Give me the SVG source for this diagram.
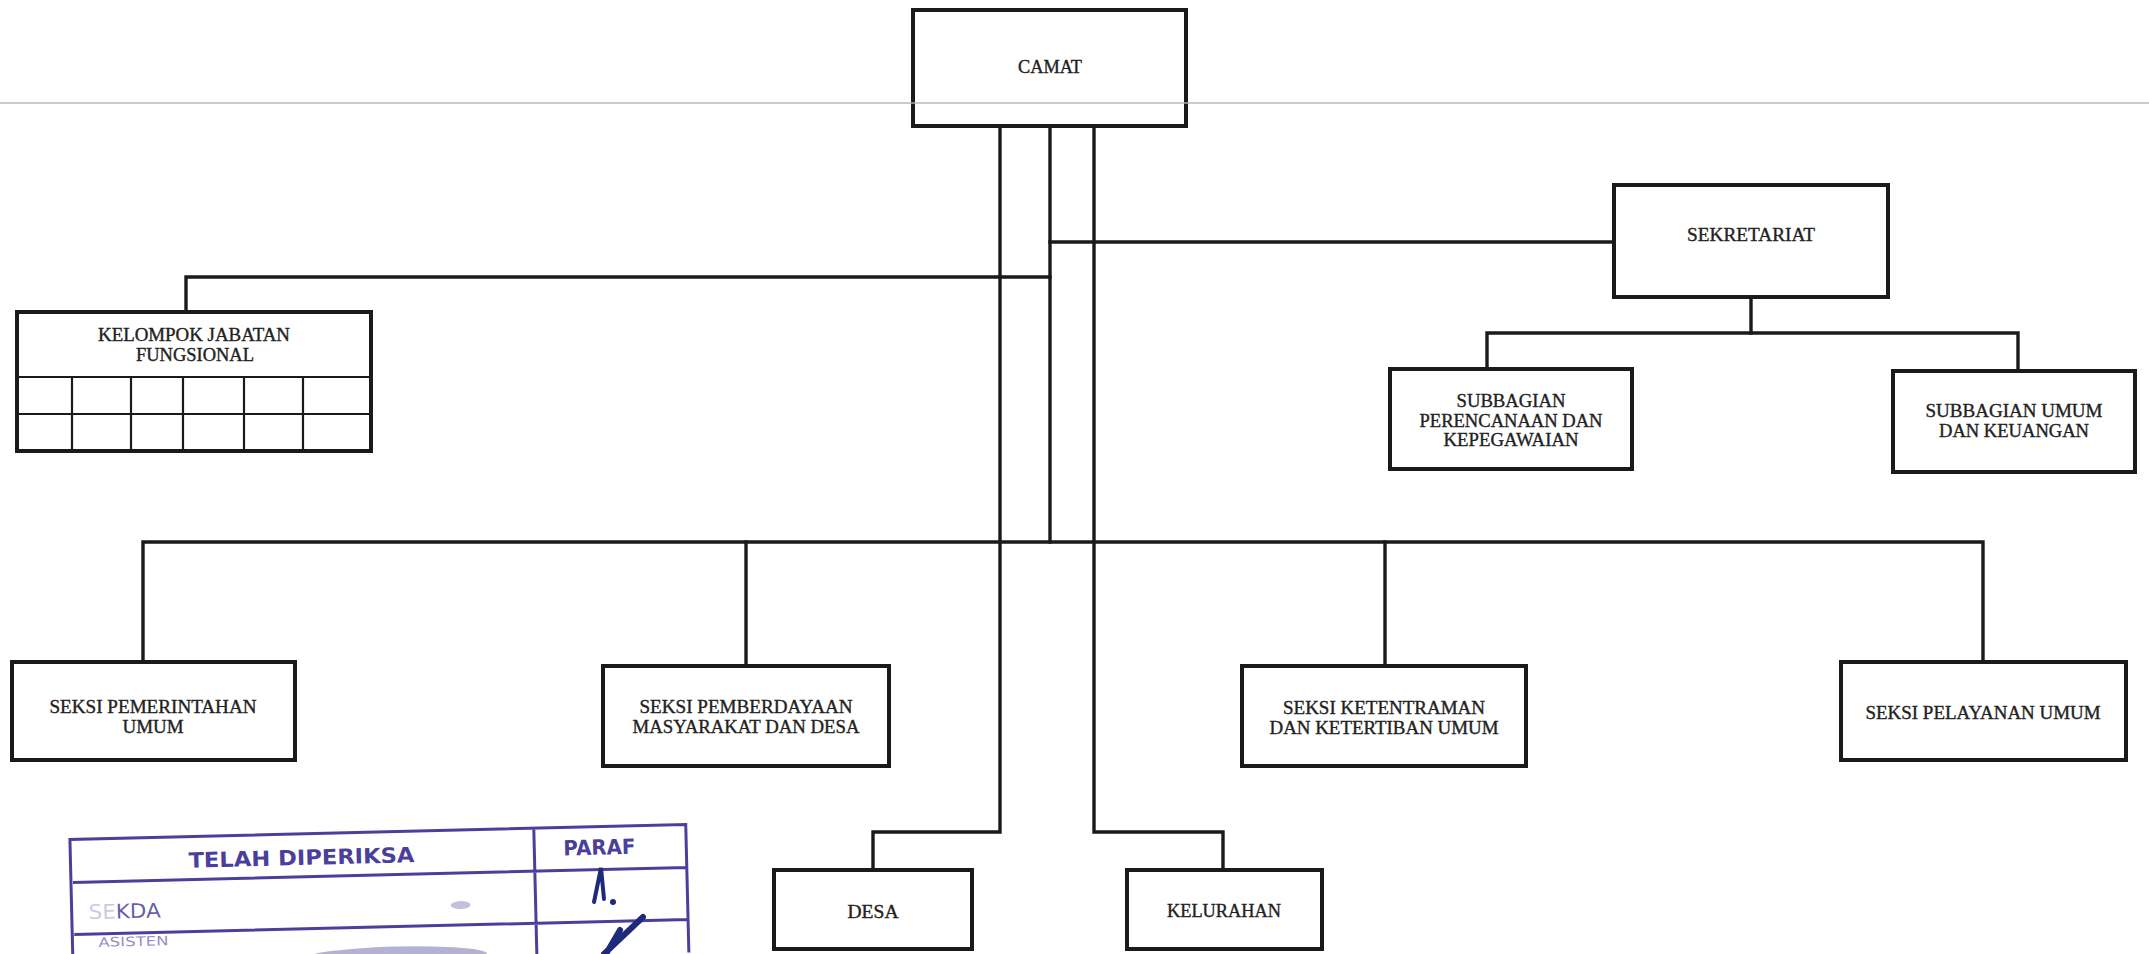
<svg xmlns="http://www.w3.org/2000/svg" width="2149" height="954" viewBox="0 0 2149 954">
<style>
.box{fill:#fff;stroke:#1a1a1a;stroke-width:4}
.grid{fill:none;stroke:#1a1a1a;stroke-width:2.2}
.con{fill:none;stroke:#1a1a1a;stroke-width:3.4;stroke-linejoin:miter;stroke-linecap:square}
.t{font-family:"Liberation Serif","DejaVu Serif",serif;font-size:18px;fill:#222;stroke:#222;stroke-width:0.35;text-anchor:middle}
.st{fill:none;stroke:#4b3f9c;stroke-width:3}
.stt{font-family:"DejaVu Sans","Liberation Sans",sans-serif;font-weight:bold;font-size:21px;fill:#4b3f9c;text-anchor:middle}
</style>
<rect width="2149" height="954" fill="#fff"/>

<g id="connectors">
  <polyline class="con" points="1050,126 1050,542"/>
  <polyline class="con" points="1000,126 1000,832 873,832 873,870"/>
  <polyline class="con" points="1094,126 1094,832 1223,832 1223,870"/>
  <polyline class="con" points="1050,242 1614,242"/>
  <polyline class="con" points="1050,277 186,277 186,312"/>
  <polyline class="con" points="143,662 143,542 1983,542 1983,662"/>
  <polyline class="con" points="746,542 746,666"/>
  <polyline class="con" points="1385,542 1385,666"/>
  <polyline class="con" points="1751,297 1751,333"/>
  <polyline class="con" points="1487,369 1487,333 2018,333 2018,371"/>
</g>

<g id="camat">
  <rect class="box" x="913" y="10" width="273" height="116"/>
  <text class="t" x="1050" y="73" textLength="64" lengthAdjust="spacingAndGlyphs">CAMAT</text>
</g>

<g id="sekretariat">
  <rect class="box" x="1614" y="185" width="274" height="112"/>
  <text class="t" x="1751" y="241" textLength="128" lengthAdjust="spacingAndGlyphs">SEKRETARIAT</text>
</g>

<g id="kelompok-jabatan-fungsional">
  <rect class="box" x="17" y="312" width="354" height="139"/>
  <path class="grid" d="M17,377H371M17,414H371M72,377V451M131,377V451M183,377V451M244,377V451M303,377V451"/>
  <text class="t" x="194" y="341" textLength="192" lengthAdjust="spacingAndGlyphs">KELOMPOK JABATAN</text>
  <text class="t" x="195" y="361" textLength="118" lengthAdjust="spacingAndGlyphs">FUNGSIONAL</text>
</g>

<g id="subbagian-perencanaan">
  <rect class="box" x="1390" y="369" width="242" height="100"/>
  <text class="t" x="1511" y="407" textLength="109" lengthAdjust="spacingAndGlyphs">SUBBAGIAN</text>
  <text class="t" x="1511" y="427" textLength="183" lengthAdjust="spacingAndGlyphs">PERENCANAAN DAN</text>
  <text class="t" x="1511" y="446" textLength="135" lengthAdjust="spacingAndGlyphs">KEPEGAWAIAN</text>
</g>

<g id="subbagian-umum">
  <rect class="box" x="1893" y="371" width="242" height="101"/>
  <text class="t" x="2014" y="417" textLength="177" lengthAdjust="spacingAndGlyphs">SUBBAGIAN UMUM</text>
  <text class="t" x="2014" y="437" textLength="150" lengthAdjust="spacingAndGlyphs">DAN KEUANGAN</text>
</g>

<g id="seksi-pemerintahan">
  <rect class="box" x="12" y="662" width="283" height="98"/>
  <text class="t" x="153" y="713" textLength="207" lengthAdjust="spacingAndGlyphs">SEKSI PEMERINTAHAN</text>
  <text class="t" x="153" y="733" textLength="61" lengthAdjust="spacingAndGlyphs">UMUM</text>
</g>

<g id="seksi-pemberdayaan">
  <rect class="box" x="603" y="666" width="286" height="100"/>
  <text class="t" x="746" y="713" textLength="213" lengthAdjust="spacingAndGlyphs">SEKSI PEMBERDAYAAN</text>
  <text class="t" x="746" y="733" textLength="227" lengthAdjust="spacingAndGlyphs">MASYARAKAT DAN DESA</text>
</g>

<g id="seksi-ketentraman">
  <rect class="box" x="1242" y="666" width="284" height="100"/>
  <text class="t" x="1384" y="714" textLength="202" lengthAdjust="spacingAndGlyphs">SEKSI KETENTRAMAN</text>
  <text class="t" x="1384" y="734" textLength="229" lengthAdjust="spacingAndGlyphs">DAN KETERTIBAN UMUM</text>
</g>

<g id="seksi-pelayanan">
  <rect class="box" x="1841" y="662" width="285" height="98"/>
  <text class="t" x="1983" y="719" textLength="235" lengthAdjust="spacingAndGlyphs">SEKSI PELAYANAN UMUM</text>
</g>

<g id="desa">
  <rect class="box" x="774" y="870" width="198" height="79"/>
  <text class="t" x="873" y="918" textLength="51" lengthAdjust="spacingAndGlyphs">DESA</text>
</g>

<g id="kelurahan">
  <rect class="box" x="1127" y="870" width="195" height="79"/>
  <text class="t" x="1224" y="917" textLength="114" lengthAdjust="spacingAndGlyphs">KELURAHAN</text>
</g>

<g id="stamp" transform="rotate(-1.4 380 880)">
  <path class="st" d="M71,960V832H687V960M73,875H687M73,927H687M535,832V960"/>
  <text class="stt" x="302" y="863" textLength="226" lengthAdjust="spacingAndGlyphs">TELAH DIPERIKSA</text>
  <text class="stt" x="600" y="860" textLength="72" lengthAdjust="spacingAndGlyphs">PARAF</text>
  <text class="stt" x="124" y="912" textLength="72" lengthAdjust="spacingAndGlyphs" style="font-weight:normal;font-size:20px"><tspan fill-opacity="0.3">SE</tspan><tspan fill-opacity="0.85">KDA</tspan></text>
  <text class="stt" x="132" y="940" textLength="70" lengthAdjust="spacingAndGlyphs" style="font-weight:normal;font-size:13px" fill-opacity="0.6">ASISTEN</text>
  <ellipse cx="460" cy="907" rx="10" ry="4" fill="#6a62a8" opacity="0.4"/>
  <ellipse cx="395" cy="956" rx="90" ry="9" fill="#5a52a0" opacity="0.45"/>
</g>
<g id="paraf-marks" fill="none" stroke="#1f2a7a" stroke-linecap="round">
  <path d="M594,902 L601,868 L604,899" stroke-width="4"/>
  <circle cx="613" cy="902" r="3" fill="#1f2a7a" stroke="none"/>
  <path d="M643,917 L604,954 M620,930 L606,954" stroke-width="6"/>
</g>

<line x1="0" y1="103" x2="2149" y2="103" stroke="#b5b5b5" stroke-width="2" opacity="0.7"/>
</svg>
